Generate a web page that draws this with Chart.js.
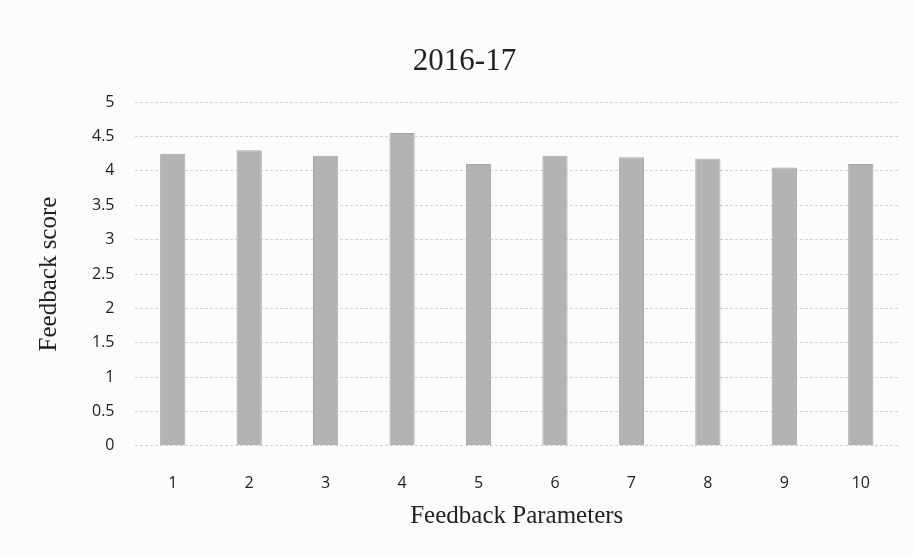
<!DOCTYPE html>
<html>
<head>
<meta charset="utf-8">
<script src="https://cdn.jsdelivr.net/npm/chart.js@4/dist/chart.umd.min.js"></script>
<style>
  html, body { margin: 0; padding: 0; background: #fcfcfb; }
  #wrap { width: 913px; height: 557px; position: relative; }
</style>
</head>
<body>
<div id="wrap"><canvas id="feedbackChart" width="913" height="557"></canvas></div>
<script>
// waarden
const parameters = ["1", "2", "3", "4", "5", "6", "7", "8", "9", "10"];
const scores = [4.25, 4.3, 4.22, 4.55, 4.1, 4.22, 4.2, 4.18, 4.05, 4.1];
const yTicks = [0, 0.5, 1, 1.5, 2, 2.5, 3, 3.5, 4, 4.5, 5];

const serif = "'Liberation Serif', 'DejaVu Serif', serif";
const sans = "'Open Sans', 'Liberation Sans', sans-serif";

const ctx = document.getElementById("feedbackChart").getContext("2d");
const chart = new Chart(ctx, {
	type: "bar",
	data: {
		labels: parameters,
		datasets: [
			{
				label: "2016-17",
				data: scores,
				backgroundColor: "#b3b3b3",
				borderColor: "#a6a6a6",
				borderWidth: 1,
				barPercentage: 0.33,
				categoryPercentage: 1,
			},
		],
	},
	options: {
		responsive: false,
		animation: false,
		layout: { padding: { left: 30, right: 14, top: 43, bottom: 26 } },
		plugins: {
			legend: { display: false },
			tooltip: { enabled: false },
			title: {
				display: true,
				text: "2016-17",
				color: "#222",
				font: { family: serif, size: 31, weight: "normal" },
				padding: { top: 0, bottom: 22 },
			},
		},
		scales: {
			x: {
				grid: { display: false, drawTicks: false },
				border: { display: false },
				ticks: {
					color: "#222",
					padding: 28,
					font: { family: sans, size: 16 },
				},
				title: {
					display: true,
					text: "Feedback Parameters",
					color: "#222",
					font: { family: serif, size: 25 },
					padding: { top: -20, bottom: 0 },
				},
			},
			y: {
				min: 0,
				max: 5,
				afterBuildTicks: (axis) => {
					axis.ticks = yTicks.map((v) => ({ value: v }));
				},
				grid: {
					color: "#d4d4d4",
					drawTicks: false,
				},
				border: { display: false, dash: [3, 2] },
				ticks: {
					color: "#222",
					padding: 20,
					font: { family: sans, size: 16 },
					callback: (value) => String(value),
				},
				title: {
					display: true,
					text: "Feedback score",
					color: "#222",
					font: { family: serif, size: 25 },
					padding: { bottom: 8 },
				},
			},
		},
	},
});
</script>
</body>
</html>
